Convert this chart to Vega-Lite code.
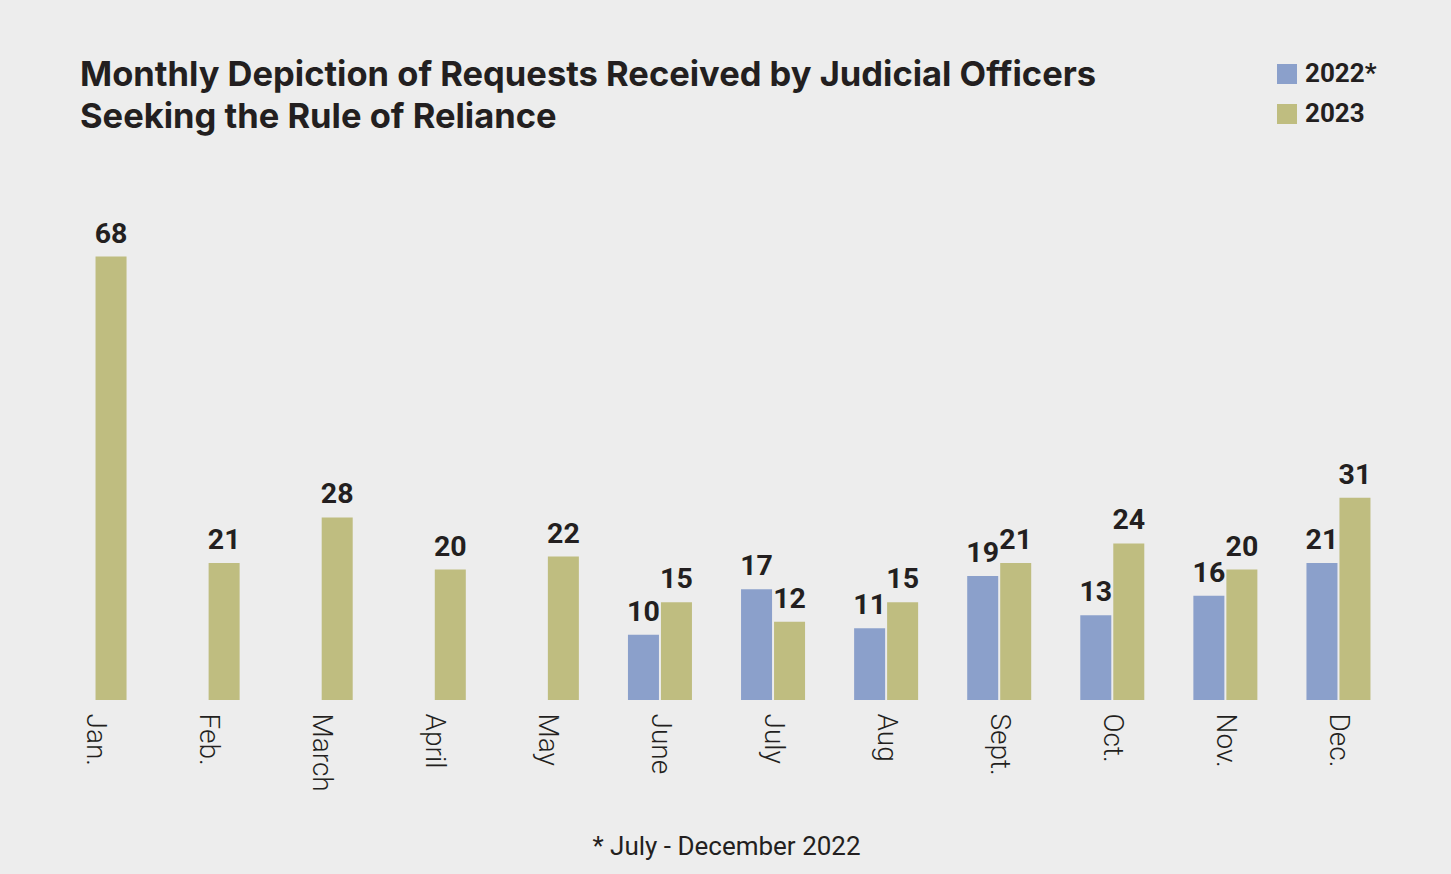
{
  "$schema": "https://vega.github.io/schema/vega-lite/v6.json",
  "width": 1357,
  "height": 600,
  "autosize": {"type": "none"},
  "padding": {"left": 38, "top": 100, "right": 56, "bottom": 174},
  "background": "#ededed",
  "title": {
    "text": ["Monthly Depiction of Requests Received by Judicial Officers", "Seeking the Rule of Reliance"],
    "anchor": "start",
    "frame": "group",
    "font": "Inter",
    "fontSize": 34.5,
    "fontWeight": "bold",
    "color": "#231f20",
    "lineHeight": 42,
    "dx": 42,
    "dy": 74,
    "offset": 0
  },
  "config": {
    "view": {"stroke": null},
    "font": "Roboto"
  },
  "data": {
    "values": [
      {"month": "Jan.", "year": "2023", "requests": 68},
      {"month": "Feb.", "year": "2023", "requests": 21},
      {"month": "March", "year": "2023", "requests": 28},
      {"month": "April", "year": "2023", "requests": 20},
      {"month": "May", "year": "2023", "requests": 22},
      {"month": "June", "year": "2022*", "requests": 10},
      {"month": "June", "year": "2023", "requests": 15},
      {"month": "July", "year": "2022*", "requests": 17},
      {"month": "July", "year": "2023", "requests": 12},
      {"month": "Aug", "year": "2022*", "requests": 11},
      {"month": "Aug", "year": "2023", "requests": 15},
      {"month": "Sept.", "year": "2022*", "requests": 19},
      {"month": "Sept.", "year": "2023", "requests": 21},
      {"month": "Oct.", "year": "2022*", "requests": 13},
      {"month": "Oct.", "year": "2023", "requests": 24},
      {"month": "Nov.", "year": "2022*", "requests": 16},
      {"month": "Nov.", "year": "2023", "requests": 20},
      {"month": "Dec.", "year": "2022*", "requests": 21},
      {"month": "Dec.", "year": "2023", "requests": 31}
    ]
  },
  "encoding": {
    "x": {
      "field": "month",
      "type": "nominal",
      "sort": ["Jan.", "Feb.", "March", "April", "May", "June", "July", "Aug", "Sept.", "Oct.", "Nov.", "Dec."],
      "scale": {"paddingInner": 0.434, "paddingOuter": 0.217},
      "axis": {
        "title": "* July - December 2022",
        "titleFont": "Roboto",
        "titleFontSize": 26,
        "titleFontWeight": "normal",
        "titleColor": "#231f20",
        "titleX": 688,
        "titleY": 154,
        "titleBaseline": "alphabetic",
        "labelAngle": 90,
        "labelFont": "Roboto",
        "labelFontSize": 28,
        "labelFontWeight": 300,
        "labelColor": "#231f20",
        "labelPadding": 13,
        "domain": false,
        "ticks": false
      }
    },
    "xOffset": {
      "field": "year",
      "type": "nominal",
      "sort": ["2022*", "2023"],
      "scale": {"domain": ["2022*", "2023"], "paddingInner": 0.06, "paddingOuter": 0}
    },
    "y": {
      "field": "requests",
      "type": "quantitative",
      "scale": {"domain": [0, 92], "nice": false},
      "axis": null
    }
  },
  "layer": [
    {
      "mark": {"type": "bar"},
      "encoding": {
        "color": {
          "field": "year",
          "type": "nominal",
          "scale": {"domain": ["2022*", "2023"], "range": ["#8ba0cb", "#bfbd80"]},
          "legend": {
            "title": null,
            "orient": "none",
            "legendX": 1236,
            "legendY": -39,
            "symbolType": "square",
            "symbolSize": 400,
            "symbolStrokeWidth": 0,
            "symbolOpacity": 1,
            "labelFont": "Roboto",
            "labelFontSize": 26,
            "labelFontWeight": "bold",
            "labelColor": "#231f20",
            "labelOffset": 5,
            "rowPadding": 14
          }
        }
      }
    },
    {
      "mark": {
        "type": "text",
        "baseline": "alphabetic",
        "dy": -14,
        "font": "Roboto",
        "fontSize": 28.5,
        "fontWeight": "bold",
        "color": "#231f20"
      },
      "encoding": {
        "text": {"field": "requests", "type": "quantitative"}
      }
    }
  ]
}
